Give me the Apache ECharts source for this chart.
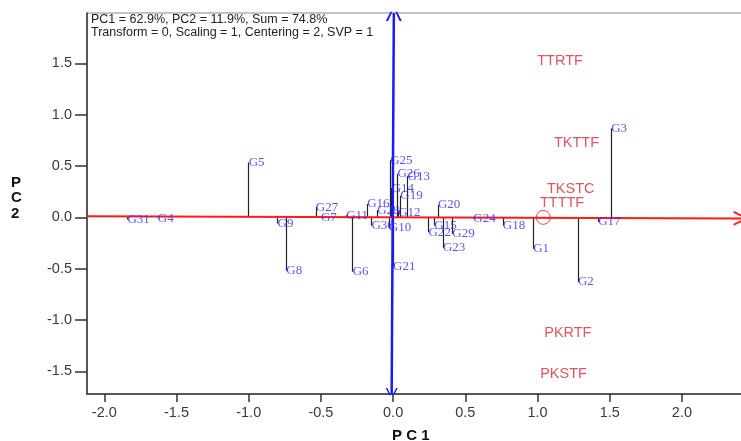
<!DOCTYPE html>
<html>
<head>
<meta charset="utf-8">
<script src="https://cdn.jsdelivr.net/npm/echarts@6/dist/echarts.min.js"></script>
<style>
html, body { margin: 0; padding: 0; background: #fff; }
#chart { width: 741px; height: 441px; }
</style>
</head>
<body>
<div id="chart"></div>
<script>
var genotypes = ['G1', 'G2', 'G3', 'G4', 'G5', 'G6', 'G7', 'G8', 'G9', 'G10',
	'G11', 'G12', 'G13', 'G14', 'G15', 'G16', 'G17', 'G18', 'G19', 'G20',
	'G21', 'G22', 'G23', 'G24', 'G25', 'G26', 'G27', 'G28', 'G29', 'G30', 'G31'];
var genoPC1 = [0.97, 1.28, 1.51, -1.63, -1.00, -0.28, -0.50, -0.74, -0.80, -0.03,
	-0.325, 0.035, 0.10, -0.01, 0.285, -0.18, 1.42, 0.76, 0.05, 0.31,
	0.0, 0.245, 0.345, 0.555, -0.02, 0.03, -0.535, -0.11, 0.41, -0.15, -1.84];
var genoPC2 = [-0.305, -0.63, 0.865, -0.01, 0.535, -0.53, 0.0, -0.52, -0.06, -0.10,
	0.02, 0.05, 0.40, 0.285, -0.08, 0.13, -0.045, -0.08, 0.21, 0.12,
	-0.48, -0.145, -0.295, -0.01, 0.555, 0.425, 0.10, 0.07, -0.16, -0.08, -0.02];

var environments = ['TTRTF', 'TKTTF', 'TKSTC', 'TTTTF', 'PKRTF', 'PKSTF'];
var envPC1 = [1.156, 1.27, 1.23, 1.17, 1.21, 1.18];
var envPC2 = [1.52, 0.727, 0.273, 0.143, -1.13, -1.53];

// average environment axis (red) and its perpendicular (blue)
var ateaLine = [[-2.12, 0.01], [2.41, -0.01]];
var perpLine = [[-0.01, -1.72], [0.005, 1.99]];
var avgEnv = [1.04, 0.0];

var chevron = 'path://M5,0 L10,14 L8.6,14 L5,3.2 L1.4,14 L0,14 Z';

var genoData = genotypes.map(function (g, i) { return [genoPC1[i], genoPC2[i], g]; });
var envData = environments.map(function (e, i) { return [envPC1[i], envPC2[i], e]; });
var projData = genotypes.map(function (g, i) {
	return { coords: [[genoPC1[i], genoPC2[i]], [genoPC1[i], 0]] };
});

var chart = echarts.init(document.getElementById('chart'));
chart.setOption({
	animation: false,
	grid: {
		left: 87, top: 13, right: -3, bottom: 47,
		outerBoundsMode: 'none', containLabel: false,
		show: true, borderColor: '#888', borderWidth: 1
	},
	xAxis: {
		type: 'value', min: -2.12, max: 2.43, splitNumber: 9,
		splitLine: { show: false },
		axisLine: { onZero: false, lineStyle: { color: '#333', width: 1.5 } },
		axisTick: { show: true, length: 8, lineStyle: { color: '#333', width: 1.5 } },
		axisLabel: {
			color: '#3a3a3a', fontSize: 14.5, fontFamily: 'Liberation Sans', margin: 11,
			showMinLabel: false, showMaxLabel: false,
			formatter: function (v) { return v.toFixed(1); }
		}
	},
	yAxis: {
		type: 'value', min: -1.72, max: 1.99, splitNumber: 7,
		splitLine: { show: false },
		axisLine: { onZero: false, lineStyle: { color: '#333', width: 1.5 } },
		axisTick: { show: true, length: 12, lineStyle: { color: '#333', width: 1.5 } },
		axisLabel: {
			color: '#3a3a3a', fontSize: 14.5, fontFamily: 'Liberation Sans', margin: 15,
			showMinLabel: false, showMaxLabel: false,
			formatter: function (v) { return v.toFixed(1); }
		}
	},
	graphic: [
		{ type: 'text', left: 91, top: 13, style: { text: 'PC1 = 62.9%, PC2 = 11.9%, Sum = 74.8%', font: '12.5px "Liberation Sans"', fill: '#222' } },
		{ type: 'text', left: 91, top: 26, style: { text: 'Transform = 0, Scaling = 1, Centering = 2, SVP = 1', font: '12.5px "Liberation Sans"', fill: '#222' } },
		{ type: 'text', left: 11, top: 175, style: { text: 'P\nC\n2', font: 'bold 15px "Liberation Sans"', fill: '#111', lineHeight: 15.5, align: 'center' } },
		{ type: 'text', left: 392, top: 428, style: { text: 'P C 1', font: 'bold 15px "Liberation Sans"', fill: '#111' } }
	],
	series: [
		{
			type: 'lines', coordinateSystem: 'cartesian2d', z: 2,
			lineStyle: { color: '#222', width: 1.2, opacity: 1 },
			symbol: 'none',
			data: projData
		},
		{
			type: 'lines', coordinateSystem: 'cartesian2d', z: 3,
			lineStyle: { color: '#ff1a1a', width: 2, opacity: 1 },
			symbol: ['none', chevron], symbolSize: [11, 15],
			data: [{ coords: ateaLine }]
		},
		{
			type: 'lines', coordinateSystem: 'cartesian2d', z: 4,
			lineStyle: { color: '#1a1aff', width: 2.5, opacity: 1 },
			symbol: [chevron, chevron], symbolSize: [12, 16],
			data: [{ coords: perpLine }]
		},
		{
			type: 'scatter', z: 5, symbol: 'circle', symbolSize: 14,
			itemStyle: { color: 'rgba(0,0,0,0)', borderColor: '#ff1a1a', borderWidth: 1 },
			data: [avgEnv]
		},
		{
			type: 'scatter', z: 6, symbolSize: 0,
			label: {
				show: true, position: 'right', distance: 0,
				color: '#2a2aff', fontSize: 13, fontFamily: 'Liberation Serif',
				formatter: function (p) { return p.data[2]; }
			},
			data: genoData
		},
		{
			type: 'scatter', z: 6, symbolSize: 0,
			label: {
				show: true, position: 'inside',
				color: '#d42a3a', fontSize: 14.5, fontFamily: 'Liberation Sans',
				formatter: function (p) { return p.data[2]; }
			},
			data: envData
		}
	]
});
</script>
</body>
</html>
